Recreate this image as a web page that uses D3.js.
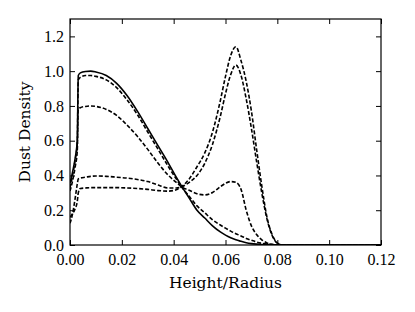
<!DOCTYPE html>
<html>

<head>
  <meta charset="utf-8">
  <title>Dust Density</title>
  <style>
  body{
    margin: 0;
    background: #fff;
  }
  </style>
</head>

<body>
  <svg width="415" height="312"></svg>
  <script src="https://d3js.org/d3.v7.min.js"></script>
  <script>
    // height / radius grid shared by every profile
    var heights = [0, 0.001, 0.002, 0.0028, 0.0032, 0.004, 0.006, 0.008, 0.010, 0.014, 0.018, 0.022,
      0.026, 0.030, 0.034, 0.038, 0.041, 0.043, 0.046, 0.049, 0.052, 0.055, 0.058, 0.060,
      0.062, 0.064, 0.066, 0.068, 0.070, 0.072, 0.074, 0.076, 0.078, 0.080, 0.082, 0.090, 0.120];

    // solid profile
    var solidDensity = [0.355, 0.42, 0.50, 0.60, 0.975, 0.99, 0.998, 1.0, 0.995, 0.975, 0.93, 0.86,
      0.77, 0.67, 0.57, 0.47, 0.39, 0.34, 0.27, 0.20, 0.155, 0.11, 0.075, 0.057,
      0.042, 0.03, 0.021, 0.013, 0.008, 0.005, 0.003, 0.002, 0.001, 0, 0, 0, 0];

    // dashed profiles
    var dashedA = [0.33, 0.40, 0.49, 0.58, 0.95, 0.965, 0.975, 0.975, 0.97, 0.95, 0.905, 0.835,
      0.75, 0.65, 0.55, 0.45, 0.38, 0.335, 0.28, 0.225, 0.185, 0.145, 0.115, 0.097,
      0.08, 0.065, 0.052, 0.038, 0.027, 0.017, 0.01, 0.005, 0.002, 0, 0, 0, 0];
    var dashedB = [0.31, 0.37, 0.45, 0.54, 0.78, 0.79, 0.797, 0.8, 0.797, 0.78, 0.745, 0.69,
      0.625, 0.55, 0.47, 0.40, 0.36, 0.335, 0.315, 0.295, 0.288, 0.302, 0.335, 0.355,
      0.365, 0.36, 0.32, 0.2, 0.11, 0.06, 0.03, 0.012, 0.004, 0, 0, 0, 0];
    var dashedC = [0.125, 0.18, 0.27, 0.35, 0.38, 0.385, 0.39, 0.395, 0.397, 0.395, 0.39, 0.385,
      0.377, 0.365, 0.345, 0.328, 0.328, 0.335, 0.36, 0.40, 0.47, 0.58, 0.74, 0.87,
      0.98, 1.035, 0.975, 0.84, 0.67, 0.48, 0.30, 0.15, 0.055, 0.01, 0, 0, 0];
    var dashedD = [0.16, 0.18, 0.21, 0.25, 0.30, 0.325, 0.328, 0.33, 0.33, 0.33, 0.33, 0.328,
      0.325, 0.32, 0.313, 0.31, 0.318, 0.335, 0.38, 0.45, 0.53, 0.65, 0.83, 0.97,
      1.09, 1.14, 1.06, 0.94, 0.77, 0.55, 0.34, 0.16, 0.06, 0.012, 0, 0, 0];

    var xTicks = [0, 0.02, 0.04, 0.06, 0.08, 0.10, 0.12];
    var yTicks = [0, 0.2, 0.4, 0.6, 0.8, 1.0, 1.2];

    var svg = d3.select("svg");
    var plotLeft = 70, plotRight = 381, plotTop = 19, plotBottom = 245;

    var xScale = d3.scaleLinear().domain([0, 0.12]).range([plotLeft, plotRight]);
    var yScale = d3.scaleLinear().domain([0, 1.3]).range([plotBottom, plotTop]);

    var line = d3.line()
      .x(d => xScale(d[0]))
      .y(d => yScale(d[1]))
      .curve(d3.curveMonotoneX);

    var series = [
      { vals: dashedA, dash: "4,2" },
      { vals: dashedB, dash: "4,2" },
      { vals: dashedC, dash: "4,2" },
      { vals: dashedD, dash: "4,2" },
      { vals: solidDensity, dash: null }
    ];

    var plot = svg.append("g");
    plot.append("clipPath").attr("id", "clip")
      .append("rect")
      .attr("x", plotLeft).attr("y", plotTop)
      .attr("width", plotRight - plotLeft).attr("height", plotBottom - plotTop);

    series.forEach(s => {
      plot.append("path")
        .attr("clip-path", "url(#clip)")
        .attr("d", line(heights.map((h, i) => [h, s.vals[i]])))
        .attr("fill", "none")
        .attr("stroke", "#000")
        .attr("stroke-width", 1.6)
        .attr("stroke-dasharray", s.dash);
    });

    // axes, ticks pointing inward on every side
    function styleAxis(g) {
      g.select(".domain").remove();
      g.selectAll(".tick line").attr("stroke", "#000").attr("stroke-width", 1);
      g.selectAll(".tick text")
        .attr("fill", "#000")
        .style("font-family", "'Liberation Serif', serif")
        .style("font-size", "16px");
    }

    svg.append("g")
      .attr("transform", "translate(0," + plotBottom + ")")
      .call(d3.axisBottom(xScale).tickValues(xTicks).tickFormat(d3.format(".2f"))
        .tickSizeInner(-5).tickSizeOuter(0).tickPadding(9))
      .call(styleAxis);

    svg.append("g")
      .attr("transform", "translate(0," + plotTop + ")")
      .call(d3.axisTop(xScale).tickValues(xTicks).tickFormat("")
        .tickSizeInner(-5).tickSizeOuter(0))
      .call(styleAxis);

    svg.append("g")
      .attr("transform", "translate(" + plotLeft + ",0)")
      .call(d3.axisLeft(yScale).tickValues(yTicks).tickFormat(d3.format(".1f"))
        .tickSizeInner(-5).tickSizeOuter(0).tickPadding(6))
      .call(styleAxis);

    svg.append("g")
      .attr("transform", "translate(" + plotRight + ",0)")
      .call(d3.axisRight(yScale).tickValues(yTicks).tickFormat("")
        .tickSizeInner(-5).tickSizeOuter(0))
      .call(styleAxis);

    svg.append("rect")
      .attr("x", plotLeft).attr("y", plotTop)
      .attr("width", plotRight - plotLeft).attr("height", plotBottom - plotTop)
      .attr("fill", "none")
      .attr("stroke", "#000")
      .attr("stroke-width", 1.2);

    svg.append("text")
      .attr("x", (plotLeft + plotRight) / 2)
      .attr("y", 288)
      .attr("text-anchor", "middle")
      .style("font-family", "'DejaVu Serif', serif")
      .style("font-size", "15.5px")
      .text("Height/Radius");

    svg.append("text")
      .attr("transform", "translate(30," + (plotTop + plotBottom) / 2 + ") rotate(-90)")
      .attr("text-anchor", "middle")
      .style("font-family", "'DejaVu Serif', serif")
      .style("font-size", "15.5px")
      .text("Dust Density");
  </script>

</body>

</html>
